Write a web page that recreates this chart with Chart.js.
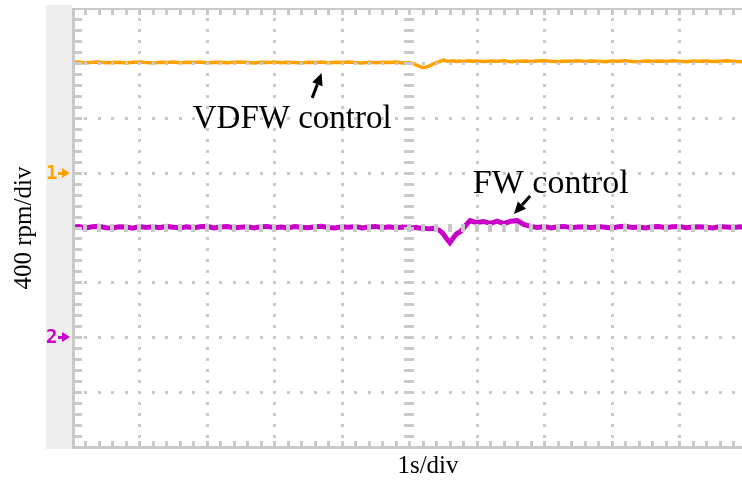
<!DOCTYPE html>
<html>
<head>
<meta charset="utf-8">
<script src="https://cdn.jsdelivr.net/npm/chart.js@4.4.1/dist/chart.umd.min.js"></script>
<style>
  html, body { margin: 0; padding: 0; background: #fff; overflow: hidden; }
  #scope { display: block; }
</style>
</head>
<body>
<canvas id="scope" width="742" height="482"></canvas>
<script>
// ── Capture data (1 s/div, 400 rpm/div) ───────────────────────────────────
const sampleTimes = [
  0.0, 0.1, 0.2, 0.3, 0.4, 0.5, 0.6, 0.7, 0.8, 0.9,
  1.0, 1.1, 1.2, 1.3, 1.4, 1.5, 1.6, 1.7, 1.8, 1.9,
  2.0, 2.1, 2.2, 2.3, 2.4, 2.5, 2.6, 2.7, 2.8, 2.9,
  3.0, 3.1, 3.2, 3.3, 3.4, 3.5, 3.6, 3.7, 3.8, 3.9,
  4.0, 4.1, 4.2, 4.3, 4.4, 4.5, 4.6, 4.7, 4.8, 4.9,
  5.0, 5.05, 5.1, 5.15, 5.2, 5.25, 5.3, 5.35, 5.4, 5.45,
  5.5, 5.55, 5.6, 5.65, 5.7, 5.75, 5.8, 5.85, 5.9, 5.95, 6.0,
  6.1, 6.2, 6.3, 6.4, 6.5, 6.6, 6.7, 6.8, 6.9, 7.0,
  7.1, 7.2, 7.3, 7.4, 7.5, 7.6, 7.7, 7.8, 7.9, 8.0,
  8.1, 8.2, 8.3, 8.4, 8.5, 8.6, 8.7, 8.8, 8.9, 9.0,
  9.1, 9.2, 9.3, 9.4, 9.5, 9.6, 9.7, 9.8, 9.9, 10.0,
];

// CH1 – VDFW control speed (rpm)
const vdfwSpeed = [
  1203, 1206, 1200, 1204, 1207, 1201, 1203, 1205, 1199, 1204,
  1206, 1202, 1200, 1205, 1203, 1207, 1201, 1204, 1202, 1206,
  1200, 1203, 1205, 1201, 1204, 1207, 1202, 1200, 1205, 1203,
  1206, 1201, 1204, 1202, 1199, 1205, 1203, 1207, 1200, 1204,
  1202, 1206, 1203, 1199, 1205, 1201, 1204, 1203, 1206, 1200,
  1201, 1196, 1186, 1174, 1166, 1169, 1179, 1191, 1202, 1209,
  1220, 1214, 1212, 1216, 1211, 1214, 1210, 1213, 1215, 1211, 1213,
  1210, 1214, 1211, 1215, 1209, 1212, 1214, 1210, 1213, 1216,
  1211, 1209, 1213, 1212, 1215, 1210, 1214, 1211, 1208, 1213,
  1212, 1215, 1210, 1209, 1214, 1211, 1213, 1210, 1215, 1212,
  1209, 1213, 1211, 1214, 1210, 1212, 1215, 1211, 1209, 1212,
];

// CH2 – FW control speed (rpm)
const fwSpeed = [
  2, 7, -4, 5, 9, -1, -3, 6, 3, -5,
  7, 0, 5, -2, 8, 2, -4, 6, -1, 5,
  9, -3, 3, 7, -2, 2, 6, -4, 5, 8,
  -1, 3, -3, 7, 2, -2, 6, 9, 0, -4,
  5, 2, 7, -3, 3, 8, -1, 6, -2, 3,
  0, -3, 2, -5, -3, -7, -9, -5, -11, -22,
  -45, -80, -110, -76, -45, -33, -8, 25, 50, 42, 36,
  44, 30, 46, 28, 45, 50, 20, 8, 1, 7,
  -3, 5, 8, -1, 3, 6, -2, 7, 2, -4,
  5, 9, 0, 3, -3, 6, 7, -1, 5, 8,
  -2, 3, 6, 2, -3, 7, 3, 0, 5, 2,
];

// Channel ground markers (rpm)
const channelRefs = [400, -800];
const channelNames = ['1', '2'];

// ── Palette ───────────────────────────────────────────────────────────────
const CH_COLORS  = ['#ffa200', '#c800c8'];
const GRID_COLOR = '#c9c9c9';
const SERIF      = "'Liberation Serif', 'Times New Roman', serif";

// ── Graticule, markers and labels ─────────────────────────────────────────
const scopeFace = {
  id: 'scopeFace',

  beforeDraw(chart) {
    const { ctx, chartArea: a } = chart;
    ctx.save();
    ctx.fillStyle = '#fff';
    ctx.fillRect(0, 0, chart.width, chart.height);
    // marker strip on the left
    ctx.fillStyle = '#eeeeee';
    ctx.fillRect(a.left - 26, a.top - 3, 26, a.bottom - a.top + 5);
    ctx.restore();
  },

  afterDatasetsDraw(chart) {
    const { ctx, chartArea: a, scales: { x, y } } = chart;
    ctx.save();
    ctx.fillStyle = GRID_COLOR;

    const minorY = [];
    for (let v = -1600 + 80; v < 1600; v += 80) minorY.push(v);
    const minorX = [];
    for (let t = 0.2; t < x.max; t += 0.2) minorX.push(t);

    // vertical division lines
    for (let i = 1; i < 10; i++) {
      const px = Math.round(x.getPixelForValue(i));
      minorY.forEach(v => {
        const py = Math.round(y.getPixelForValue(v));
        if (i === 5) ctx.fillRect(px - 5, py - 1, 10, 3);
        else ctx.fillRect(px - 1, py - 1, 3, 3);
      });
    }
    // horizontal division lines
    for (let k = -3; k <= 3; k++) {
      const py = Math.round(y.getPixelForValue(k * 400));
      minorX.forEach(t => {
        const px = Math.round(x.getPixelForValue(t));
        if (k === 0) ctx.fillRect(px - 2, py - 4, 4, 8);
        else ctx.fillRect(px - 1, py - 1, 3, 3);
      });
    }

    // frame with tick marks
    ctx.fillRect(a.left, a.top, 3, a.bottom - a.top + 2);
    minorY.forEach(v => {
      const py = Math.round(y.getPixelForValue(v));
      ctx.fillRect(a.left + 3, py - 1, 7, 3);
    });
    ctx.fillRect(a.left, a.top, a.right - a.left, 2);
    ctx.fillRect(a.left, a.bottom - 1, a.right - a.left, 3);
    minorX.forEach(t => {
      const px = Math.round(x.getPixelForValue(t));
      ctx.fillRect(px - 1, a.top + 2, 3, 5);
      ctx.fillRect(px - 1, a.bottom - 6, 3, 5);
    });
    ctx.restore();
  },

  afterDraw(chart) {
    const { ctx, chartArea: a, scales: { x, y } } = chart;
    ctx.save();

    // channel reference markers
    channelRefs.forEach((v, i) => {
      const py = Math.round(y.getPixelForValue(v));
      ctx.fillStyle = CH_COLORS[i];
      ctx.font = "bold 19px 'DejaVu Sans Mono', monospace";
      ctx.textAlign = 'left';
      ctx.textBaseline = 'middle';
      ctx.fillText(channelNames[i], a.left - 26, py + 1);
      ctx.fillRect(a.left - 14, py - 1, 6, 3);
      ctx.beginPath();
      ctx.moveTo(a.left - 10, py - 5);
      ctx.lineTo(a.left - 2, py);
      ctx.lineTo(a.left - 10, py + 5);
      ctx.closePath();
      ctx.fill();
    });

    // trace annotations
    ctx.fillStyle = '#000';
    ctx.strokeStyle = '#000';
    ctx.textAlign = 'left';
    ctx.textBaseline = 'alphabetic';
    ctx.font = '33px ' + SERIF;
    ctx.fillText('VDFW control', x.getPixelForValue(1.79), y.getPixelForValue(726));
    ctx.font = '34px ' + SERIF;
    ctx.fillText('FW control', x.getPixelForValue(5.94), y.getPixelForValue(251));

    const arrow = (t0, v0, t1, v1) => {
      const x0 = x.getPixelForValue(t0), y0 = y.getPixelForValue(v0);
      const x1 = x.getPixelForValue(t1), y1 = y.getPixelForValue(v1);
      const ang = Math.atan2(y1 - y0, x1 - x0);
      const hl = 12, hw = 5.5;
      const bx = x1 - hl * Math.cos(ang), by = y1 - hl * Math.sin(ang);
      ctx.lineWidth = 3;
      ctx.beginPath();
      ctx.moveTo(x0, y0);
      ctx.lineTo(bx, by);
      ctx.stroke();
      ctx.beginPath();
      ctx.moveTo(x1, y1);
      ctx.lineTo(bx + hw * Math.sin(ang), by - hw * Math.cos(ang));
      ctx.lineTo(bx - hw * Math.sin(ang), by + hw * Math.cos(ang));
      ctx.closePath();
      ctx.fill();
    };
    arrow(3.56, 945, 3.70, 1126);
    arrow(6.79, 230, 6.55, 98);

    // axis scale captions
    ctx.font = '25px ' + SERIF;
    ctx.textAlign = 'center';
    ctx.textBaseline = 'middle';
    ctx.fillText('1s/div', 428, 466);
    ctx.translate(24, 228);
    ctx.rotate(-Math.PI / 2);
    ctx.fillText('400 rpm/div', 0, 0);
    ctx.restore();
  },
};

// ── Chart ─────────────────────────────────────────────────────────────────
const toPoints = vals => vals.map((v, i) => ({ x: sampleTimes[i], y: v }));

new Chart(document.getElementById('scope').getContext('2d'), {
  type: 'line',
  data: {
    datasets: [
      {
        label: 'VDFW control',
        data: toPoints(vdfwSpeed),
        borderColor: CH_COLORS[0],
        borderWidth: 3.5,
        pointRadius: 0,
        tension: 0,
      },
      {
        label: 'FW control',
        data: toPoints(fwSpeed),
        borderColor: CH_COLORS[1],
        borderWidth: 5,
        pointRadius: 0,
        tension: 0,
      },
    ],
  },
  options: {
    responsive: false,
    animation: false,
    events: [],
    layout: { padding: { left: 72, top: 8, right: 0, bottom: 35 } },
    scales: {
      x: { type: 'linear', min: 0, max: 9.93, display: false },
      y: { min: -1600, max: 1600, display: false },
    },
    plugins: {
      legend: { display: false },
      tooltip: { enabled: false },
    },
  },
  plugins: [scopeFace],
});
</script>
</body>
</html>
